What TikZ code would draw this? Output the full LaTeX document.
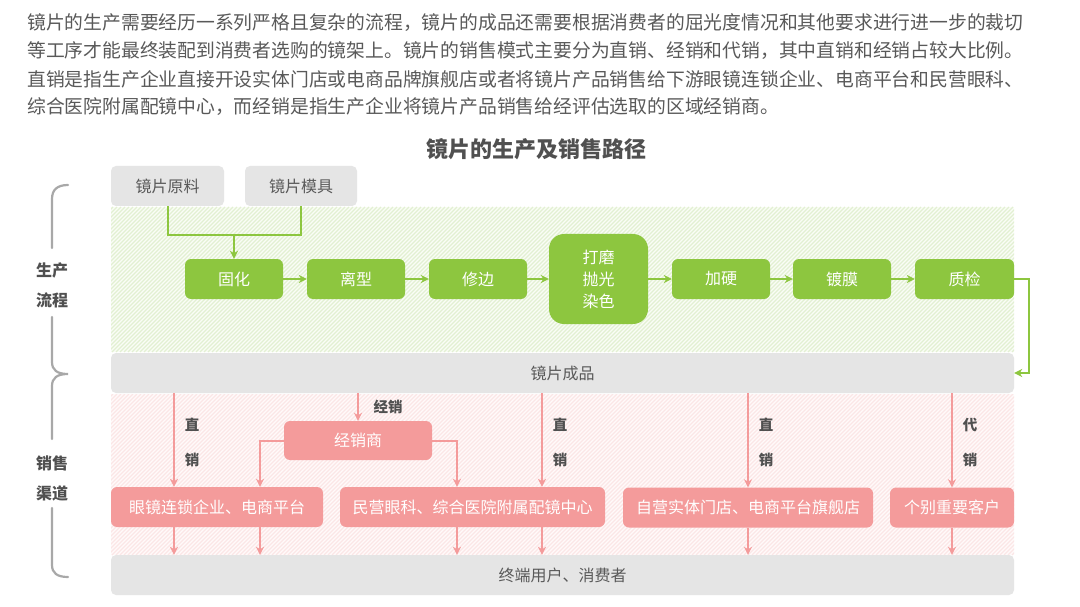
\documentclass[tikz,border=0pt]{standalone}
\usepackage{fontspec}
\setmainfont{Noto Sans CJK SC}
\usetikzlibrary{arrows.meta}
\definecolor{lgreen}{HTML}{8DC63F}
\definecolor{lpink}{HTML}{F49B9B}
\definecolor{boxgrey}{HTML}{E5E5E5}
\definecolor{txtgrey}{HTML}{595959}
\definecolor{lblgrey}{HTML}{505050}
\definecolor{bracegrey}{HTML}{A8A8A8}
\definecolor{greenbg}{HTML}{FAFDF6}
\definecolor{greenhatch}{HTML}{E2F0D2}
\definecolor{pinkbg}{HTML}{FFFAFA}
\definecolor{pinkhatch}{HTML}{FBE6E6}
\tikzset{
  greybox/.style={fill=boxgrey, rounded corners=5pt, text=txtgrey, inner sep=0pt,
    font=\fontsize{16}{19}\selectfont},
  greenbox/.style={fill=lgreen, rounded corners=6pt, text=white, inner sep=0pt,
    minimum width=98pt, minimum height=40pt, font=\fontsize{16}{19}\selectfont},
  pinkbox/.style={fill=lpink, rounded corners=6pt, text=white, inner sep=0pt,
    minimum height=40pt, font=\fontsize{16}{19}\selectfont},
  garrow/.style={draw=lgreen, line width=2pt, -{Stealth[length=8pt,width=8pt,inset=2.5pt]}},
  gline/.style={draw=lgreen, line width=2pt},
  parrow/.style={draw=lpink, line width=2pt, -{Stealth[length=8pt,width=8pt,inset=2.5pt]}},
  para/.style={anchor=west, text=txtgrey, inner sep=0pt, font=\fontsize{18.8}{22}\selectfont},
  lbl/.style={text=lblgrey, inner sep=0pt, font=\bfseries\fontsize{14.5}{17}\selectfont},
  sidelbl/.style={text=lblgrey, inner sep=0pt, font=\bfseries\fontsize{16}{19}\selectfont},
  brace/.style={draw=bracegrey, line width=2.2pt, line cap=round}
}
\begin{document}
\begin{tikzpicture}[x=1pt,y=-1pt]
\useasboundingbox (0,0) rectangle (1080,607);
\fill[white] (0,0) rectangle (1080,607);

% paragraph
\node[para] (p1) at (27,23) {镜片的生产需要经历一系列严格且复杂的流程，镜片的成品还需要根据消费者的屈光度情况和其他要求进行进一步的裁切};
\node[para] (p2) at (27,51) {等工序才能最终装配到消费者选购的镜架上。镜片的销售模式主要分为直销、经销和代销，其中直销和经销占较大比例。};
\node[para] (p3) at (27,79) {直销是指生产企业直接开设实体门店或电商品牌旗舰店或者将镜片产品销售给下游眼镜连锁企业、电商平台和民营眼科、};
\node[para] (p4) at (27,107) {综合医院附属配镜中心，而经销是指生产企业将镜片产品销售给经评估选取的区域经销商。};

% title
\node[text=lblgrey, font=\bfseries\fontsize{22}{26}\selectfont] (title) at (536,149) {镜片的生产及销售路径};

% hatched regions
\begin{scope}
\clip (111,207) rectangle (1014,352);
\fill[greenbg] (111,207) rectangle (1014,352);
\foreach \i in {-40,-36,...,1016} \draw[greenhatch, line width=1.1pt] (\i,352) -- ++(145,-145);
\end{scope}
\begin{scope}
\clip (111,394) rectangle (1014,555);
\fill[pinkbg] (111,394) rectangle (1014,555);
\foreach \i in {-60,-56,...,1016} \draw[pinkhatch, line width=1.1pt] (\i,555) -- ++(161,-161);
\end{scope}

% top grey boxes
\node[greybox, minimum width=113pt, minimum height=40pt] (yl) at (167.5,186) {镜片原料};
\node[greybox, minimum width=112pt, minimum height=40pt] (mj) at (301,186) {镜片模具};

% production steps
\node[greenbox] (gh) at (234,279) {固化};
\node[greenbox] (lx) at (356,279) {离型};
\node[greenbox] (xb) at (478,279) {修边};
\node[greenbox, minimum width=99pt, minimum height=90pt, rounded corners=15pt, align=center,
  font=\fontsize{16}{22}\selectfont] (dm) at (598.5,279) {打磨\\抛光\\染色};
\node[greenbox] (jy) at (721,279) {加硬};
\node[greenbox] (dmo) at (842,279) {镀膜};
\node[greenbox, minimum width=99pt] (zj) at (964.5,279) {质检};

% finished product bar and end bar
\node[greybox, minimum width=903pt, minimum height=40pt] (cp) at (562.5,373) {镜片成品};
\node[greybox, minimum width=903pt, minimum height=40pt] (zd) at (562.5,575) {终端用户、消费者};

% green connectors
\coordinate (j) at (234,235);
\draw[gline] (yl.south) |- (j) -| (mj.south);
\draw[garrow] (j) -- (gh.north);
\draw[garrow] (gh.east) -- (lx.west);
\draw[garrow] (lx.east) -- (xb.west);
\draw[garrow] (xb.east) -- (dm.west);
\draw[garrow] (dm.east) -- (jy.west);
\draw[garrow] (jy.east) -- (dmo.west);
\draw[garrow] (dmo.east) -- (zj.west);
\draw[garrow] (zj.east) -- ++(15,0) |- (cp.east);

% sales boxes
\node[pinkbox, minimum width=212pt] (b1) at (217,507) {眼镜连锁企业、电商平台};
\node[pinkbox, minimum width=265pt] (b2) at (472.5,507) {民营眼科、综合医院附属配镜中心};
\node[pinkbox, minimum width=250pt] (b3) at (748,507.5) {自营实体门店、电商平台旗舰店};
\node[pinkbox, minimum width=124pt] (b4) at (952,507.5) {个别重要客户};
\node[pinkbox, minimum width=148pt, minimum height=39pt] (jxs) at (358,440.5) {经销商};

% arrow x positions
\coordinate (a1) at (174,0);
\coordinate (a2) at (260,0);
\coordinate (a3) at (457,0);
\coordinate (a4) at (542,0);
\coordinate (a5) at (748,0);
\coordinate (a6) at (952,0);

% from finished product
\draw[parrow] (a1 |- cp.south) -- (a1 |- b1.north);
\draw[parrow] (jxs.north |- cp.south) -- (jxs.north);
\draw[parrow] (a4 |- cp.south) -- (a4 |- b2.north);
\draw[parrow] (a5 |- cp.south) -- (a5 |- b3.north);
\draw[parrow] (a6 |- cp.south) -- (a6 |- b4.north);
% from distributor
\draw[parrow] (jxs.west) -| (a2 |- b1.north);
\draw[parrow] (jxs.east) -| (a3 |- b2.north);
% to end users
\draw[parrow] (a1 |- b1.south) -- (a1 |- zd.north);
\draw[parrow] (a2 |- b1.south) -- (a2 |- zd.north);
\draw[parrow] (a3 |- b2.south) -- (a3 |- zd.north);
\draw[parrow] (a4 |- b2.south) -- (a4 |- zd.north);
\draw[parrow] (a5 |- b3.south) -- (a5 |- zd.north);
\draw[parrow] (a6 |- b4.south) -- (a6 |- zd.north);

% channel labels
\node[lbl] (l1a) at (192,425) {直};
\node[lbl] (l1b) at (192,460) {销};
\node[lbl] (l2) at (388,407) {经销};
\node[lbl] (l3a) at (560,425) {直};
\node[lbl] (l3b) at (560,460) {销};
\node[lbl] (l4a) at (766,425) {直};
\node[lbl] (l4b) at (766,460) {销};
\node[lbl] (l5a) at (970,425) {代};
\node[lbl] (l5b) at (970,460) {销};

% left braces and labels
\draw[brace] (68,185) .. controls (57,185) and (52,190) .. (52,199) -- (52,248);
\draw[brace] (52,317) -- (52,362) .. controls (52,370) and (57,374) .. (68,374)
  .. controls (57,374) and (52,378) .. (52,386) -- (52,439);
\draw[brace] (52,508) -- (52,565) .. controls (52,573) and (57,577) .. (68,577);
\node[sidelbl] (s1) at (52,270) {生产};
\node[sidelbl] (s2) at (52,300) {流程};
\node[sidelbl] (s3) at (52,463) {销售};
\node[sidelbl] (s4) at (52,493) {渠道};
\end{tikzpicture}
\end{document}
